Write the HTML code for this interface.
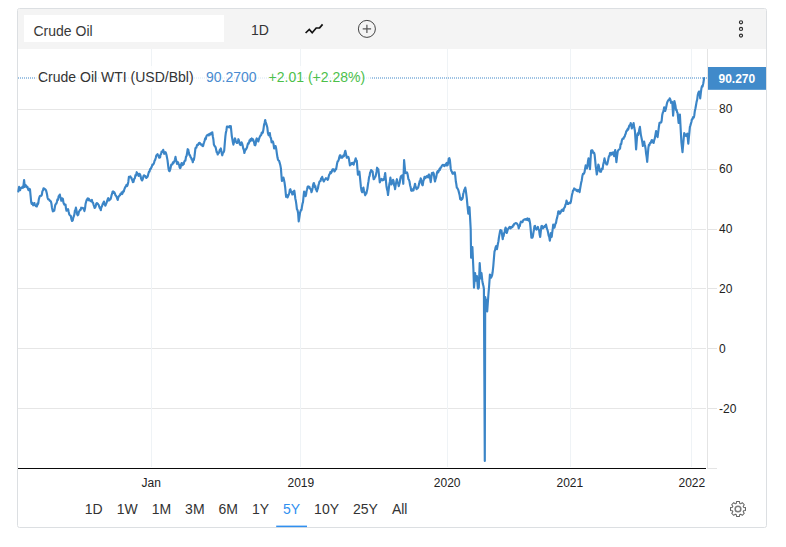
<!DOCTYPE html>
<html><head><meta charset="utf-8">
<style>
html,body{margin:0;padding:0;background:#fff;}
body{width:786px;height:547px;position:relative;overflow:hidden;font-family:"Liberation Sans",sans-serif;color:#333;}
.box{position:absolute;left:17px;top:8px;width:748px;height:518px;border:1px solid #dcdfe2;border-radius:2.5px;box-sizing:content-box;}
.hdr{position:absolute;left:18px;top:9px;width:748px;height:39.8px;background:#f4f4f4;border-radius:2px 2px 0 0;}
.inp{position:absolute;left:24px;top:15px;width:200px;height:27px;background:#fff;}
.t{position:absolute;white-space:nowrap;line-height:1;}
.rng{position:absolute;top:501px;font-size:14px;line-height:16px;color:#333;white-space:nowrap;}
svg{position:absolute;left:0;top:0;}
</style></head><body>
<div class="box"></div>
<div class="hdr"></div>
<div class="inp"></div>
<div class="t" style="left:33.5px;top:24px;font-size:14px;color:#383838;">Crude Oil</div>
<div class="t" style="left:251px;top:23px;font-size:14px;color:#333;">1D</div>

<svg width="786" height="547" viewBox="0 0 786 547">
 <!-- horizontal gridlines -->
 <g stroke="#e6e6e6" stroke-width="1" shape-rendering="crispEdges">
  <line x1="18" y1="109.5" x2="706" y2="109.5"/>
  <line x1="18" y1="169.5" x2="706" y2="169.5"/>
  <line x1="18" y1="229.5" x2="706" y2="229.5"/>
  <line x1="18" y1="288.5" x2="706" y2="288.5"/>
  <line x1="18" y1="348.5" x2="706" y2="348.5"/>
  <line x1="18" y1="408.5" x2="706" y2="408.5"/>
 </g>
 <!-- vertical gridlines -->
 <g stroke="#eff3f6" stroke-width="1" shape-rendering="crispEdges">
  <line x1="151.5" y1="49" x2="151.5" y2="467"/>
  <line x1="300.5" y1="49" x2="300.5" y2="467"/>
  <line x1="447.5" y1="49" x2="447.5" y2="467"/>
  <line x1="570.5" y1="49" x2="570.5" y2="467"/>
  <line x1="691.5" y1="49" x2="691.5" y2="467"/>
 </g>
 <!-- y axis line + ticks -->
 <g stroke="#e4e4e4" stroke-width="1" shape-rendering="crispEdges">
  <line x1="707.5" y1="49" x2="707.5" y2="469"/>
  <line x1="708" y1="109.5" x2="717" y2="109.5"/>
  <line x1="708" y1="169.5" x2="717" y2="169.5"/>
  <line x1="708" y1="229.5" x2="717" y2="229.5"/>
  <line x1="708" y1="288.5" x2="717" y2="288.5"/>
  <line x1="708" y1="348.5" x2="717" y2="348.5"/>
  <line x1="708" y1="408.5" x2="717" y2="408.5"/>
  <line x1="707" y1="468.5" x2="717" y2="468.5"/>
 </g>
 <!-- x axis -->
 <line x1="18" y1="468.5" x2="706" y2="468.5" stroke="#0a0a0a" stroke-width="1" shape-rendering="crispEdges"/>
 <!-- dotted price line -->
 <line x1="18" y1="78" x2="707" y2="78" stroke="#3e87c8" stroke-width="1" stroke-dasharray="1 1"/>
 <rect x="35.5" y="66" width="335" height="22" fill="#fff" fill-opacity="0.78"/>
 <!-- price line -->
 <path d="M18.30,191.50 L19.10,186.90 L19.60,188.09 L20.10,190.20 L20.75,187.99 L21.40,187.60 L22.00,187.99 L22.60,186.49 L23.20,187.60 L23.65,183.83 L24.10,180.00 L24.80,186.90 L25.30,186.28 L25.80,185.22 L26.30,186.10 L26.88,187.14 L27.45,186.95 L28.03,189.00 L28.60,190.20 L29.07,188.88 L29.53,188.74 L30.00,189.60 L30.60,195.84 L31.20,202.20 L31.70,203.82 L32.20,202.77 L32.70,203.81 L33.20,205.30 L33.80,204.48 L34.40,203.00 L34.87,205.16 L35.33,205.20 L35.80,206.00 L36.30,205.36 L36.80,206.49 L37.30,203.70 L37.80,204.50 L38.30,203.13 L38.80,199.35 L39.30,197.60 L39.80,196.23 L40.30,195.71 L40.80,195.75 L41.30,195.80 L41.85,194.77 L42.40,191.27 L42.95,190.46 L43.50,188.40 L44.00,189.06 L44.50,188.67 L45.00,189.42 L45.50,189.60 L46.02,190.38 L46.54,192.29 L47.06,194.60 L47.58,197.75 L48.10,199.20 L48.66,199.47 L49.22,199.64 L49.78,200.80 L50.34,200.92 L50.90,201.50 L51.40,203.45 L51.90,207.22 L52.40,209.44 L52.90,211.40 L53.55,210.38 L54.20,210.70 L54.70,208.19 L55.20,205.30 L55.78,204.02 L56.35,203.58 L56.92,201.85 L57.50,199.35 L58.08,199.80 L58.65,196.21 L59.22,195.64 L59.80,194.50 L60.30,197.24 L60.80,197.73 L61.30,200.70 L61.85,199.52 L62.40,198.40 L62.90,199.00 L63.40,202.44 L63.90,203.80 L64.43,204.72 L64.97,204.46 L65.50,204.50 L66.00,208.58 L66.50,210.70 L67.03,209.68 L67.57,210.14 L68.10,209.10 L68.70,212.05 L69.30,214.50 L69.80,215.21 L70.30,215.39 L70.80,216.00 L71.45,219.38 L72.10,221.00 L72.70,220.49 L73.30,217.60 L73.90,216.00 L74.40,214.33 L74.90,210.66 L75.40,210.22 L75.90,207.60 L76.50,210.55 L77.10,214.02 L77.70,215.30 L78.28,214.79 L78.85,212.04 L79.42,210.95 L80.00,209.90 L80.60,209.86 L81.20,207.71 L81.80,208.38 L82.40,208.00 L82.90,207.91 L83.40,208.55 L83.90,209.18 L84.40,211.10 L85.00,208.60 L85.60,203.74 L86.20,201.50 L86.70,199.81 L87.20,199.15 L87.70,198.40 L88.23,200.03 L88.77,198.64 L89.30,200.40 L89.82,200.17 L90.34,200.33 L90.86,201.10 L91.38,200.83 L91.90,199.90 L92.44,202.47 L92.98,202.56 L93.52,204.54 L94.06,206.01 L94.60,208.00 L95.13,207.60 L95.67,206.39 L96.20,203.80 L96.70,203.07 L97.20,203.31 L97.70,203.63 L98.20,204.50 L98.72,204.95 L99.24,206.74 L99.76,208.15 L100.28,208.44 L100.80,210.20 L101.30,207.28 L101.80,206.72 L102.30,205.30 L102.83,203.69 L103.37,202.94 L103.90,201.50 L104.40,204.04 L104.90,204.73 L105.40,205.60 L105.98,204.04 L106.55,202.71 L107.12,201.26 L107.70,199.20 L108.28,198.12 L108.85,200.39 L109.42,200.15 L110.00,199.50 L110.52,199.14 L111.03,197.61 L111.55,195.22 L112.07,193.90 L112.58,191.80 L113.10,191.50 L113.67,192.80 L114.25,192.26 L114.83,193.23 L115.40,195.30 L115.98,195.69 L116.55,196.72 L117.12,198.33 L117.70,199.90 L118.28,197.59 L118.85,196.30 L119.42,195.54 L120.00,195.30 L120.54,193.72 L121.09,193.86 L121.63,192.44 L122.17,194.10 L122.71,192.88 L123.26,191.13 L123.80,191.50 L124.33,189.32 L124.87,188.04 L125.40,186.90 L125.98,185.97 L126.55,184.77 L127.12,186.08 L127.70,184.60 L128.30,181.98 L128.90,176.80 L129.40,176.91 L129.90,177.16 L130.40,176.32 L130.90,177.60 L131.40,177.72 L131.90,179.49 L132.40,180.44 L132.90,182.20 L133.53,181.79 L134.17,178.79 L134.80,178.40 L135.43,175.09 L136.07,175.44 L136.70,172.20 L137.33,173.54 L137.97,173.81 L138.60,176.00 L139.10,175.61 L139.60,173.77 L140.10,174.50 L140.60,176.05 L141.10,178.69 L141.60,179.87 L142.10,180.40 L142.73,179.21 L143.37,176.38 L144.00,175.30 L144.60,175.72 L145.20,175.97 L145.80,177.60 L146.30,177.91 L146.80,176.88 L147.30,177.13 L147.80,176.00 L148.38,173.83 L148.95,171.83 L149.53,171.63 L150.10,169.10 L150.68,169.21 L151.25,167.72 L151.82,166.45 L152.40,164.50 L152.93,164.83 L153.47,164.12 L154.00,163.00 L154.60,160.67 L155.20,159.81 L155.80,157.76 L156.40,155.30 L157.00,154.90 L157.52,154.21 L158.04,155.41 L158.56,155.89 L159.08,157.56 L159.60,157.60 L160.10,157.26 L160.60,154.41 L161.10,154.16 L161.60,151.50 L162.13,152.24 L162.67,151.62 L163.20,149.90 L163.70,151.50 L164.20,153.80 L164.85,152.27 L165.50,152.20 L166.00,153.29 L166.50,155.01 L167.00,157.60 L167.50,160.11 L168.00,164.47 L168.50,168.47 L169.00,170.70 L169.55,171.19 L170.10,169.90 L170.70,167.15 L171.30,164.50 L171.85,164.52 L172.40,164.53 L172.95,162.30 L173.50,163.00 L174.00,161.89 L174.50,161.02 L175.00,159.16 L175.50,156.90 L176.00,159.85 L176.50,161.44 L177.00,163.80 L177.55,162.16 L178.10,162.20 L178.60,164.43 L179.10,164.71 L179.60,167.41 L180.10,168.10 L180.60,167.63 L181.10,164.43 L181.60,163.00 L182.10,163.24 L182.60,165.16 L183.10,164.50 L183.68,164.13 L184.25,161.74 L184.82,160.68 L185.40,160.70 L185.97,156.92 L186.55,156.00 L187.12,152.87 L187.70,149.20 L188.27,149.81 L188.85,153.10 L189.43,155.02 L190.00,155.30 L190.56,157.09 L191.12,157.67 L191.68,159.57 L192.24,159.86 L192.80,162.20 L193.33,159.17 L193.87,159.89 L194.40,156.90 L194.90,152.77 L195.40,148.40 L195.90,147.52 L196.40,147.63 L196.90,145.38 L197.40,144.60 L197.93,145.03 L198.47,144.38 L199.00,143.00 L199.60,142.78 L200.20,143.42 L200.80,144.60 L201.38,144.44 L201.95,144.68 L202.53,145.95 L203.10,146.10 L203.60,143.67 L204.10,142.29 L204.60,140.70 L205.20,138.39 L205.80,139.07 L206.40,136.27 L207.00,135.30 L207.60,134.89 L208.20,134.92 L208.80,135.45 L209.40,133.89 L210.00,133.80 L210.57,134.51 L211.15,133.05 L211.73,132.76 L212.30,132.30 L212.83,136.46 L213.37,139.25 L213.90,144.60 L214.47,145.77 L215.05,146.43 L215.62,147.29 L216.20,149.90 L216.70,152.21 L217.20,152.11 L217.70,154.50 L218.22,153.41 L218.73,153.05 L219.25,151.60 L219.77,149.98 L220.28,149.46 L220.80,148.40 L221.30,150.84 L221.80,153.74 L222.30,155.30 L222.93,152.74 L223.57,152.39 L224.20,150.70 L224.80,143.20 L225.40,136.10 L225.90,132.35 L226.40,130.47 L226.90,126.60 L227.46,126.55 L228.01,126.62 L228.57,127.06 L229.13,127.39 L229.69,126.10 L230.24,126.46 L230.80,126.10 L231.30,131.10 L231.80,136.10 L232.33,138.96 L232.87,142.27 L233.40,144.60 L233.90,142.41 L234.40,140.55 L234.90,138.40 L235.40,139.49 L235.90,141.85 L236.40,142.37 L236.90,143.00 L237.40,142.71 L237.90,141.62 L238.40,139.20 L238.93,140.37 L239.47,142.95 L240.00,144.60 L240.50,144.99 L241.00,143.95 L241.50,142.30 L242.08,143.50 L242.66,145.60 L243.24,148.57 L243.82,149.75 L244.40,153.00 L244.92,151.04 L245.43,149.32 L245.95,149.59 L246.47,148.60 L246.98,147.62 L247.50,145.30 L248.02,143.38 L248.53,143.83 L249.05,142.67 L249.57,140.31 L250.08,141.21 L250.60,139.20 L251.18,140.42 L251.75,138.47 L252.32,140.38 L252.90,139.20 L253.47,140.46 L254.05,142.22 L254.62,145.05 L255.20,145.30 L255.70,143.86 L256.20,139.82 L256.70,138.40 L257.23,139.26 L257.77,140.51 L258.30,141.50 L258.88,139.53 L259.45,137.61 L260.03,136.38 L260.60,135.30 L261.18,135.13 L261.75,132.55 L262.32,133.19 L262.90,132.30 L263.47,129.07 L264.05,124.90 L264.62,122.64 L265.20,120.00 L265.70,122.12 L266.20,123.63 L266.70,125.40 L267.33,127.57 L267.97,133.26 L268.60,135.30 L269.20,134.90 L269.80,133.00 L270.40,137.33 L271.00,138.17 L271.60,142.30 L272.25,141.29 L272.90,141.50 L273.50,143.75 L274.10,148.40 L274.60,148.36 L275.10,146.27 L275.60,146.10 L276.23,148.97 L276.87,153.56 L277.50,157.60 L278.00,159.70 L278.50,160.50 L279.00,160.70 L279.63,162.64 L280.27,164.92 L280.90,168.40 L281.40,175.03 L281.90,181.00 L282.40,180.05 L282.90,179.25 L283.40,177.60 L284.00,179.83 L284.60,183.05 L285.20,187.50 L285.65,192.30 L286.10,196.80 L286.60,196.43 L287.10,195.34 L287.60,197.41 L288.10,196.10 L288.68,194.72 L289.25,193.43 L289.82,189.84 L290.40,189.20 L291.03,191.89 L291.67,191.61 L292.30,194.50 L292.80,194.49 L293.30,192.48 L293.80,191.23 L294.30,190.70 L294.80,194.17 L295.30,198.48 L295.80,200.70 L296.35,204.30 L296.90,209.10 L297.50,210.09 L298.10,213.00 L298.70,221.40 L299.35,217.27 L300.00,213.00 L300.50,211.29 L301.00,209.92 L301.50,209.90 L302.00,206.45 L302.50,203.60 L303.00,202.20 L303.55,196.62 L304.10,191.50 L304.60,192.54 L305.10,194.06 L305.60,196.10 L306.10,194.47 L306.60,190.95 L307.10,189.20 L307.60,186.90 L308.18,186.44 L308.75,187.25 L309.32,186.77 L309.90,188.40 L310.43,189.02 L310.97,189.67 L311.50,192.20 L312.07,190.51 L312.65,187.73 L313.23,184.49 L313.80,183.00 L314.32,184.35 L314.83,186.96 L315.35,186.23 L315.87,189.50 L316.38,189.91 L316.90,191.50 L317.42,189.49 L317.94,188.37 L318.46,185.22 L318.98,183.52 L319.50,181.50 L320.04,181.07 L320.58,180.91 L321.12,178.33 L321.66,178.68 L322.20,176.90 L322.73,178.97 L323.27,180.32 L323.80,181.50 L324.30,180.49 L324.80,179.57 L325.30,179.20 L325.88,178.22 L326.45,178.59 L327.03,178.61 L327.60,179.90 L328.18,179.00 L328.75,176.21 L329.32,174.45 L329.90,173.80 L330.42,171.95 L330.93,173.15 L331.45,172.46 L331.97,171.18 L332.48,169.40 L333.00,169.20 L333.50,169.30 L334.00,170.20 L334.50,171.50 L335.03,170.63 L335.57,169.08 L336.10,169.20 L336.60,166.49 L337.10,163.45 L337.60,161.50 L338.18,161.18 L338.75,159.68 L339.32,157.05 L339.90,155.40 L340.47,155.31 L341.05,157.76 L341.62,156.63 L342.20,157.70 L342.80,156.79 L343.40,155.34 L344.00,156.10 L344.65,153.14 L345.30,150.80 L345.80,153.03 L346.30,155.41 L346.80,157.70 L347.30,156.66 L347.80,157.18 L348.30,156.90 L348.83,158.45 L349.37,161.95 L349.90,165.40 L350.47,163.93 L351.05,164.34 L351.62,163.01 L352.20,163.80 L352.70,162.83 L353.20,163.82 L353.70,164.60 L354.20,162.36 L354.70,161.72 L355.20,160.03 L355.70,158.40 L356.25,160.20 L356.80,160.70 L357.35,167.77 L357.90,174.60 L358.40,174.13 L358.90,173.52 L359.40,171.50 L359.90,176.55 L360.40,181.63 L360.90,186.90 L361.55,190.81 L362.20,192.20 L362.80,188.99 L363.40,187.60 L364.00,190.75 L364.60,193.11 L365.20,195.30 L365.73,192.85 L366.27,193.64 L366.80,191.50 L367.38,188.87 L367.95,184.53 L368.53,181.16 L369.10,176.90 L369.60,175.99 L370.10,172.51 L370.60,171.79 L371.10,170.00 L371.60,170.51 L372.10,171.87 L372.60,171.50 L373.15,176.14 L373.70,179.20 L374.27,178.90 L374.85,177.12 L375.43,176.77 L376.00,174.60 L376.55,171.63 L377.10,167.70 L377.70,168.95 L378.30,169.20 L378.80,173.36 L379.30,177.57 L379.80,182.30 L380.38,180.57 L380.95,180.39 L381.53,178.95 L382.10,179.20 L382.63,180.34 L383.17,179.89 L383.70,180.00 L384.20,178.00 L384.70,175.66 L385.20,173.00 L385.85,179.89 L386.50,186.50 L387.00,189.31 L387.50,190.88 L388.00,195.00 L388.65,189.98 L389.30,184.50 L389.85,181.70 L390.40,177.60 L390.95,181.06 L391.50,184.50 L392.03,183.06 L392.57,181.85 L393.10,179.90 L393.60,181.10 L394.10,185.17 L394.60,186.23 L395.10,189.20 L395.70,184.76 L396.30,181.92 L396.90,179.20 L397.50,182.10 L398.10,183.03 L398.70,186.10 L399.20,184.42 L399.70,182.74 L400.20,179.18 L400.70,176.90 L401.23,176.06 L401.77,175.78 L402.30,175.30 L402.80,179.69 L403.30,183.80 L404.10,160.00 L404.70,166.71 L405.30,173.00 L405.83,173.07 L406.37,172.90 L406.90,172.30 L407.40,173.50 L407.90,175.98 L408.40,179.20 L408.95,179.71 L409.50,181.50 L410.07,185.20 L410.63,187.12 L411.20,190.70 L411.77,190.80 L412.35,189.28 L412.93,189.33 L413.50,190.40 L414.00,187.60 L414.50,186.45 L415.00,183.80 L415.53,186.10 L416.07,187.86 L416.60,189.20 L417.10,188.12 L417.60,188.18 L418.10,187.60 L418.62,185.67 L419.14,183.83 L419.66,181.09 L420.18,181.26 L420.70,178.40 L421.20,179.34 L421.70,183.09 L422.20,184.71 L422.70,185.30 L423.30,181.25 L423.90,179.59 L424.50,176.90 L425.02,177.73 L425.53,178.12 L426.05,176.77 L426.57,176.30 L427.08,176.15 L427.60,176.90 L428.13,177.29 L428.67,174.61 L429.20,174.60 L429.70,177.35 L430.20,178.74 L430.70,182.20 L431.30,177.66 L431.90,173.00 L432.53,174.44 L433.17,172.58 L433.80,173.80 L434.40,178.48 L435.00,181.50 L435.52,179.22 L436.05,177.91 L436.58,175.13 L437.10,172.30 L437.66,171.14 L438.22,172.41 L438.78,170.88 L439.34,169.22 L439.90,170.00 L440.47,167.53 L441.05,167.63 L441.62,166.35 L442.20,165.30 L442.70,164.99 L443.20,164.77 L443.70,165.49 L444.20,166.10 L444.83,164.86 L445.47,165.45 L446.10,163.80 L446.60,163.00 L447.10,165.45 L447.60,165.30 L448.20,162.73 L448.80,158.40 L449.35,158.21 L449.90,160.00 L450.70,168.40 L451.27,170.86 L451.85,171.65 L452.43,173.49 L453.00,173.80 L453.60,172.75 L454.20,172.47 L454.80,172.30 L455.30,175.85 L455.80,181.25 L456.30,184.01 L456.80,187.60 L457.30,188.00 L457.80,188.95 L458.30,189.90 L458.93,192.38 L459.57,194.86 L460.20,199.10 L460.70,198.06 L461.20,199.97 L461.70,198.54 L462.20,199.10 L462.70,197.93 L463.20,193.85 L463.70,192.20 L464.23,190.06 L464.77,189.16 L465.30,187.60 L465.80,190.39 L466.30,194.47 L466.80,198.40 L467.30,203.86 L467.80,208.90 L468.30,213.70 L468.90,211.26 L469.50,207.20 L470.10,218.30 L470.70,229.20 L471.10,257.70 L471.75,252.67 L472.40,247.00 L472.90,258.44 L473.40,269.20 L474.00,287.60 L474.55,280.34 L475.10,273.00 L475.70,280.70 L476.30,278.97 L476.90,276.10 L477.40,281.90 L477.90,288.40 L478.35,288.60 L478.80,287.60 L479.25,275.26 L479.70,263.00 L480.20,270.90 L480.70,278.40 L481.50,273.00 L482.30,280.70 L482.83,283.84 L483.37,285.68 L483.90,289.00 L484.35,374.65 L484.80,461.00 L485.20,297.00 L485.75,299.61 L486.30,300.00 L486.75,305.46 L487.20,311.50 L487.75,303.73 L488.30,296.00 L488.75,290.38 L489.20,285.00 L489.90,274.60 L490.50,275.57 L491.10,277.60 L491.60,276.45 L492.10,275.31 L492.60,272.30 L493.30,266.00 L493.90,258.56 L494.50,251.50 L495.03,250.11 L495.57,247.38 L496.10,246.10 L496.90,249.20 L497.40,246.78 L497.90,243.79 L498.40,241.50 L498.90,237.76 L499.40,234.87 L499.90,232.12 L500.40,230.00 L500.95,231.41 L501.50,230.70 L502.10,234.94 L502.70,239.20 L503.17,236.41 L503.63,236.12 L504.10,233.00 L504.60,232.49 L505.10,229.27 L505.60,227.60 L506.20,229.36 L506.80,233.00 L507.38,230.85 L507.95,229.24 L508.53,228.54 L509.10,227.60 L509.63,226.80 L510.17,227.46 L510.70,228.40 L511.27,227.00 L511.85,227.03 L512.42,227.08 L513.00,225.30 L513.54,225.49 L514.08,224.15 L514.62,223.70 L515.16,223.52 L515.70,223.00 L516.33,223.21 L516.97,223.65 L517.60,224.60 L518.15,225.36 L518.70,228.40 L519.27,226.02 L519.83,226.02 L520.40,223.00 L520.92,221.57 L521.44,222.09 L521.96,221.96 L522.48,222.10 L523.00,220.70 L523.58,219.71 L524.15,219.60 L524.72,219.30 L525.30,219.70 L525.88,219.11 L526.45,218.91 L527.02,219.91 L527.60,218.40 L528.10,219.88 L528.60,220.52 L529.10,218.88 L529.60,220.70 L530.10,223.33 L530.60,228.40 L531.40,237.60 L531.90,237.64 L532.40,237.63 L532.90,236.10 L533.43,232.70 L533.97,229.66 L534.50,226.10 L535.00,225.83 L535.50,227.88 L536.00,229.20 L536.63,229.54 L537.27,228.51 L537.90,226.90 L538.50,229.37 L539.10,230.00 L539.65,234.68 L540.20,236.90 L540.80,231.30 L541.40,226.10 L541.90,225.85 L542.40,226.73 L542.90,228.40 L543.43,227.69 L543.97,227.34 L544.50,226.10 L545.00,226.75 L545.50,225.68 L546.00,224.60 L546.50,226.78 L547.00,228.89 L547.50,230.00 L548.08,232.56 L548.65,235.48 L549.22,236.83 L549.80,240.70 L550.35,237.58 L550.90,233.00 L551.70,236.90 L552.20,232.59 L552.70,229.03 L553.20,224.60 L553.85,226.48 L554.50,227.60 L555.00,225.56 L555.50,223.57 L556.00,223.00 L556.58,219.48 L557.15,217.60 L557.72,214.89 L558.30,211.50 L558.80,211.26 L559.30,211.92 L559.80,213.80 L560.30,212.91 L560.80,212.12 L561.30,210.66 L561.80,210.00 L562.33,209.55 L562.87,210.80 L563.40,210.80 L563.90,208.23 L564.40,207.68 L564.90,206.90 L565.43,204.70 L565.97,203.89 L566.50,200.60 L567.03,202.11 L567.57,203.86 L568.10,204.00 L568.67,203.69 L569.25,202.81 L569.83,202.59 L570.40,203.00 L570.90,201.63 L571.40,198.40 L571.90,195.30 L572.48,193.07 L573.05,190.61 L573.62,190.12 L574.20,188.40 L574.78,189.43 L575.35,189.34 L575.92,189.49 L576.50,190.70 L577.00,190.87 L577.50,191.27 L578.00,189.90 L578.53,189.96 L579.07,190.22 L579.60,192.20 L580.10,188.71 L580.60,185.86 L581.10,183.00 L581.73,180.41 L582.37,176.08 L583.00,173.80 L583.50,174.04 L584.00,173.36 L584.50,172.20 L585.10,168.76 L585.70,165.30 L586.30,166.08 L586.90,168.40 L587.43,166.29 L587.97,161.24 L588.50,158.40 L589.00,162.83 L589.50,164.90 L590.00,169.20 L590.55,159.73 L591.10,150.70 L591.60,151.38 L592.10,150.17 L592.60,150.70 L593.10,152.85 L593.60,152.64 L594.10,152.81 L594.60,154.60 L595.15,160.13 L595.70,166.10 L596.25,170.08 L596.80,174.50 L597.30,171.60 L597.80,169.00 L598.30,164.50 L598.83,165.91 L599.37,168.89 L599.90,171.50 L600.44,170.29 L600.98,171.81 L601.52,169.19 L602.06,168.49 L602.60,169.20 L603.23,164.46 L603.87,161.72 L604.50,158.40 L605.00,160.96 L605.50,162.45 L606.00,163.58 L606.50,164.50 L607.00,164.53 L607.50,163.09 L608.00,160.70 L608.50,158.33 L609.00,156.03 L609.50,156.06 L610.00,153.00 L610.50,154.17 L611.00,152.85 L611.50,154.60 L612.03,154.26 L612.57,152.75 L613.10,152.30 L613.60,153.87 L614.10,156.10 L614.65,152.61 L615.20,150.00 L615.80,155.84 L616.40,162.20 L617.05,156.46 L617.70,151.50 L618.30,150.16 L618.90,149.58 L619.50,149.20 L620.08,148.26 L620.65,143.97 L621.22,144.03 L621.80,140.70 L622.38,138.99 L622.95,138.43 L623.52,138.69 L624.10,136.90 L624.63,136.70 L625.17,134.66 L625.70,133.80 L626.20,131.36 L626.70,131.20 L627.20,130.00 L627.70,128.90 L628.20,129.56 L628.70,127.70 L629.20,125.75 L629.70,125.05 L630.20,125.28 L630.70,123.10 L631.25,124.53 L631.80,128.40 L632.40,126.40 L633.00,125.68 L633.60,123.10 L634.25,127.59 L634.90,130.70 L635.50,139.74 L636.10,149.50 L636.65,142.09 L637.20,135.40 L637.70,133.46 L638.20,134.89 L638.70,133.00 L639.30,129.32 L639.90,126.90 L640.37,130.88 L640.83,134.60 L641.30,136.90 L641.83,139.51 L642.37,142.37 L642.90,146.00 L643.50,144.94 L644.10,141.50 L644.60,144.30 L645.10,145.88 L645.60,149.00 L646.13,153.83 L646.67,157.06 L647.20,161.80 L647.80,154.52 L648.40,147.60 L648.90,144.78 L649.40,145.20 L649.90,143.00 L650.53,143.08 L651.17,141.35 L651.80,140.00 L652.40,142.15 L653.00,140.76 L653.60,143.00 L654.20,140.01 L654.80,138.40 L655.45,134.64 L656.10,131.00 L656.60,134.19 L657.10,136.18 L657.60,137.00 L658.23,132.04 L658.87,127.02 L659.50,123.00 L660.07,122.62 L660.63,122.58 L661.20,122.40 L661.70,120.38 L662.20,115.31 L662.70,113.00 L663.20,111.89 L663.70,109.82 L664.20,107.30 L664.70,109.99 L665.20,111.00 L665.83,108.98 L666.47,105.81 L667.10,102.80 L667.62,101.45 L668.14,100.53 L668.66,99.74 L669.18,99.93 L669.70,98.30 L670.35,99.46 L671.00,102.80 L671.65,101.66 L672.30,102.10 L673.10,115.60 L673.75,108.50 L674.40,101.00 L674.93,103.31 L675.47,105.80 L676.00,109.90 L676.53,109.72 L677.07,112.10 L677.60,113.00 L678.10,117.86 L678.60,123.00 L679.25,120.00 L679.90,114.50 L680.40,124.03 L680.90,133.35 L681.40,142.20 L681.95,147.02 L682.50,152.20 L683.07,145.48 L683.63,139.09 L684.20,133.00 L684.80,134.00 L685.40,135.55 L686.00,136.00 L686.65,134.71 L687.30,133.70 L687.80,138.49 L688.30,143.70 L688.83,138.00 L689.37,132.53 L689.90,126.80 L690.40,125.35 L690.90,123.64 L691.40,122.00 L691.90,119.20 L692.50,119.09 L693.10,117.15 L693.70,117.60 L694.28,115.41 L694.85,110.91 L695.42,108.55 L696.00,105.30 L696.58,101.89 L697.15,99.77 L697.72,95.29 L698.30,93.00 L698.90,91.59 L699.50,91.50 L700.20,98.40 L700.80,93.20 L701.40,88.40 L702.00,85.97 L702.60,86.33 L703.20,83.80 L703.65,81.10 L704.10,78.00" fill="none" stroke="#3b85c7" stroke-width="2.15" stroke-linejoin="round" stroke-linecap="round"/>
 <!-- label box -->
 <rect x="708" y="67" width="58" height="22.8" fill="#408aca"/>
 <!-- icons -->
 <polyline points="305.6,33 309.3,29.4 312.2,32.8 316.2,28 319.6,27.8 322.6,24.4" fill="none" stroke="#111" stroke-width="1.7" stroke-linejoin="miter" stroke-linecap="butt"/>
 <circle cx="366.9" cy="28.9" r="8.5" fill="none" stroke="#444" stroke-width="1"/>
 <path d="M362.7,28.9 H371.1 M366.9,24.8 V33" stroke="#555" stroke-width="1.2" fill="none"/>
 <g fill="none" stroke="#2a2a2a" stroke-width="1.15">
  <circle cx="741" cy="22.3" r="1.55"/><circle cx="741" cy="28.95" r="1.55"/><circle cx="741" cy="35.6" r="1.55"/>
 </g>
 <!-- gear -->
 <g transform="translate(738,509)" fill="none" stroke="#626262" stroke-width="1.05" stroke-linejoin="round">
  <circle r="2.85" stroke-width="1.5" stroke="#7c7c7c"/>
  <path d="M-1.75,-5.58 L-1.45,-7.46 L1.45,-7.46 L1.75,-5.58 L2.71,-5.18 L4.25,-6.30 L6.30,-4.25 L5.18,-2.71 L5.58,-1.75 L7.46,-1.45 L7.46,1.45 L5.58,1.75 L5.18,2.71 L6.30,4.25 L4.25,6.30 L2.71,5.18 L1.75,5.58 L1.45,7.46 L-1.45,7.46 L-1.75,5.58 L-2.71,5.18 L-4.25,6.30 L-6.30,4.25 L-5.18,2.71 L-5.58,1.75 L-7.46,1.45 L-7.46,-1.45 L-5.58,-1.75 L-5.18,-2.71 L-6.30,-4.25 L-4.25,-6.30 L-2.71,-5.18 Z"/>
 </g>
 <!-- 5Y underline -->
 <rect x="276.2" y="525.6" width="30.8" height="1.5" fill="#3090f0"/>
</svg>

<div class="t" style="left:38px;top:70px;font-size:14px;color:#333;">Crude Oil WTI (USD/Bbl)</div>
<div class="t" style="left:206px;top:70px;font-size:14px;color:#4a8bd0;">90.2700</div>
<div class="t" style="left:268.6px;top:70px;font-size:14px;color:#4cc04a;">+2.01 (+2.28%)</div>

<div class="t" style="left:718.5px;top:73px;font-size:12px;font-weight:bold;color:#fff;">90.270</div>
<div class="t" style="left:719px;top:103px;font-size:12px;color:#222;">80</div>
<div class="t" style="left:719px;top:163px;font-size:12px;color:#222;">60</div>
<div class="t" style="left:719px;top:223px;font-size:12px;color:#222;">40</div>
<div class="t" style="left:719px;top:283px;font-size:12px;color:#222;">20</div>
<div class="t" style="left:719px;top:343px;font-size:12px;color:#222;">0</div>
<div class="t" style="left:719px;top:403px;font-size:12px;color:#222;">-20</div>

<div class="t" style="left:141.5px;top:477px;font-size:12px;color:#222;">Jan</div>
<div class="t" style="left:287.5px;top:477px;font-size:12px;color:#222;">2019</div>
<div class="t" style="left:433.8px;top:477px;font-size:12px;color:#222;">2020</div>
<div class="t" style="left:556.5px;top:477px;font-size:12px;color:#222;">2021</div>
<div class="t" style="left:678.5px;top:477px;font-size:12px;color:#222;">2022</div>

<div class="rng" style="left:84.8px;">1D</div>
<div class="rng" style="left:116.7px;">1W</div>
<div class="rng" style="left:151.7px;">1M</div>
<div class="rng" style="left:185.1px;">3M</div>
<div class="rng" style="left:218.5px;">6M</div>
<div class="rng" style="left:251.9px;">1Y</div>
<div class="rng" style="left:283px;color:#3090f0;">5Y</div>
<div class="rng" style="left:314.1px;">10Y</div>
<div class="rng" style="left:353px;">25Y</div>
<div class="rng" style="left:391.9px;">All</div>
</body></html>
